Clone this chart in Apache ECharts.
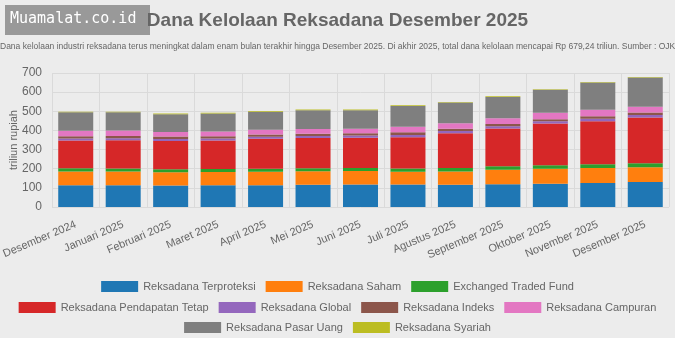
<!DOCTYPE html>
<html>
<head>
<meta charset="utf-8">
<script src="https://cdn.jsdelivr.net/npm/echarts@6/dist/echarts.min.js"></script>
<style>
html,body{margin:0;padding:0;background:#ececec;}
#c{width:675px;height:338px;}
</style>
</head>
<body>
<div id="c"></div>
<script>
var categories = ["Desember 2024","Januari 2025","Februari 2025","Maret 2025","April 2025","Mei 2025","Juni 2025","Juli 2025","Agustus 2025","September 2025","Oktober 2025","November 2025","Desember 2025"];
var terproteksi = [113,113,112,113,114,116,117,118,116,119,122,125,130];
var saham = [73,72,70,70,70,71,71,66,70,76,78,79,78];
var etf = [16,16,15,15,16,16,16,17,18,18,18,19,20];
var pendapatanTetap = [146,148,148,150,157,157,158,163,181,197,218,225,240];
var global = [10,10,10,10,10,11,11,12,12,12,12,13,13];
var indeks = [12,12,13,12,12,12,12,14,12,11,10,13,13];
var campuran = [28,28,24,24,24,24,24,29,29,30,34,34,30];
var pasarUang = [97,96,93,95,95,99,97,109,108,112,120,142,152];
var syariah = [3,3,3,3,3,3,3,3,3,3,3,3,3];
var yTicks = [0,100,200,300,400,500,600,700];

var seriesDefs = [
  ["Reksadana Terproteksi", terproteksi, "#1f77b4"],
  ["Reksadana Saham", saham, "#ff7f0e"],
  ["Exchanged Traded Fund", etf, "#2ca02c"],
  ["Reksadana Pendapatan Tetap", pendapatanTetap, "#d62728"],
  ["Reksadana Global", global, "#9467bd"],
  ["Reksadana Indeks", indeks, "#8c564b"],
  ["Reksadana Campuran", campuran, "#e377c2"],
  ["Reksadana Pasar Uang", pasarUang, "#7f7f7f"],
  ["Reksadana Syariah", syariah, "#bcbd22"]
];

var chart = echarts.init(document.getElementById('c'), null, {renderer:'canvas'});
var legendBase = {
  left: 'center', itemWidth: 37, itemHeight: 11, itemGap: 10, icon: 'rect',
  textStyle: {color:'#666', fontSize: 11, fontFamily: 'Liberation Sans, Arial, sans-serif'},
  selectedMode: false
};
var names = seriesDefs.map(function(d){return d[0];});
chart.setOption({
  backgroundColor: '#ececec',
  animation: false,
  title: {
    text: 'Dana Kelolaan Reksadana Desember 2025',
    left: 'center', top: 6,
    textStyle: {color:'#666', fontSize: 19, fontWeight:'bold', fontFamily:'Liberation Sans, Arial, sans-serif'}
  },
  graphic: [
    {type:'text', left: 0, top: 42, style:{text:'Dana kelolaan industri reksadana terus meningkat dalam enam bulan terakhir hingga Desember 2025. Di akhir 2025, total dana kelolaan mencapai Rp 679,24 triliun. Sumber : OJK', fill:'#666', font:'8.5px "Liberation Sans", Arial, sans-serif'}},
    {type:'rect', left: 5, top: 5, shape:{width:145, height:30}, style:{fill:'#999'}},
    {type:'text', left: 10, top: 12, style:{text:'Muamalat.co.id', fill:'#fff', font:'15px "DejaVu Sans Mono", monospace'}},
    {type:'text', x: 14, y: 140, rotation: Math.PI/2, style:{text:'triliun rupiah', fill:'#666', align:'center', verticalAlign:'middle', font:'11px "Liberation Sans", Arial, sans-serif'}}
  ],
  legend: [
    Object.assign({}, legendBase, {top: 276, data: names.slice(0,3)}),
    Object.assign({}, legendBase, {top: 297, data: names.slice(3,7)}),
    Object.assign({}, legendBase, {top: 317, data: names.slice(7,9)})
  ],
  grid: {left: 52, right: 6, top: 73, bottom: 131, containLabel: false, outerBoundsMode: 'none'},
  xAxis: {
    type: 'category', data: categories,
    axisLine: {show:false}, axisTick: {show:false},
    splitLine: {show:true, lineStyle:{color:'#dadada'}},
    axisLabel: {rotate: 23, color:'#666', fontSize: 11, margin: 17, interval: 0, fontFamily:'Liberation Sans, Arial, sans-serif'}
  },
  yAxis: {
    type: 'value', min: 0, max: 700, interval: 100,
    axisLine: {show:false}, axisTick: {show:false},
    splitLine: {lineStyle:{color:'#dadada'}},
    axisLabel: {color:'#666', fontSize: 12, margin: 10, fontFamily:'Liberation Sans, Arial, sans-serif',
      formatter: function(v){ return yTicks.indexOf(v) >= 0 ? String(v) : ''; }}
  },
  series: seriesDefs.map(function(d){
    return {name: d[0], type:'bar', stack:'total', data: d[1], barWidth: 35,
      itemStyle:{color: d[2]}};
  })
});
</script>
</body>
</html>
